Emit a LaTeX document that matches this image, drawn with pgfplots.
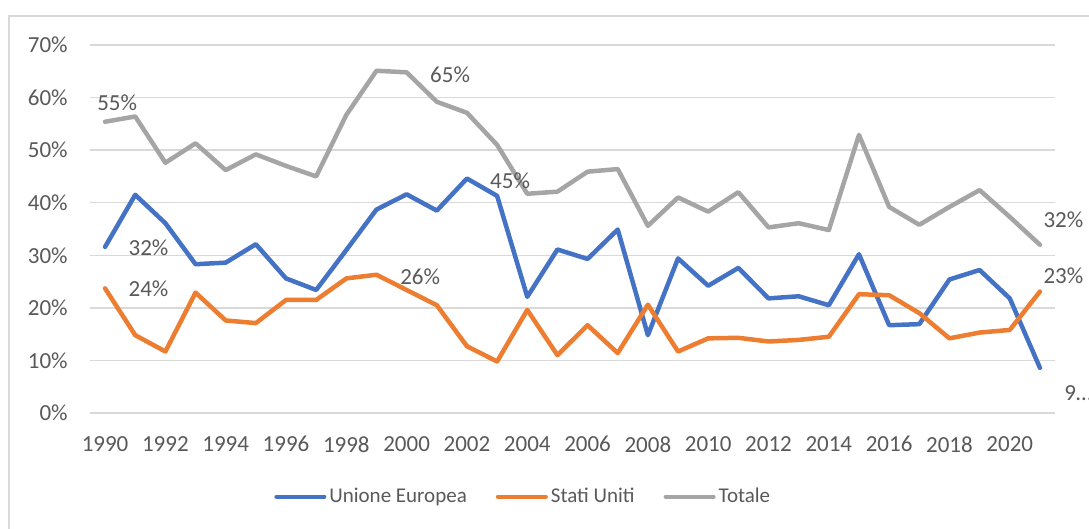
\documentclass[border=0pt]{standalone}
\usepackage{fontspec}
\setmainfont{Carlito}
\usepackage{pgfplots}
\pgfplotsset{compat=1.18}
\usepackage{pgfplotstable}
\definecolor{cUE}{HTML}{4472C4}
\definecolor{cUS}{HTML}{ED7D31}
\definecolor{cTot}{HTML}{A5A5A5}
\definecolor{cTxt}{HTML}{595959}
\definecolor{cGrid}{HTML}{D9D9D9}
\pgfplotstableread{
year ue us tot
1990 31.6 23.7 55.4
1991 41.5 14.8 56.4
1992 36.1 11.7 47.6
1993 28.3 22.9 51.3
1994 28.6 17.6 46.2
1995 32.1 17.1 49.2
1996 25.6 21.5 47.0
1997 23.4 21.5 45.0
1998 31.0 25.6 56.7
1999 38.7 26.3 65.1
2000 41.6 23.4 64.8
2001 38.5 20.5 59.2
2002 44.6 12.7 57.1
2003 41.3 9.8 51.0
2004 22.1 19.6 41.7
2005 31.1 11.0 42.1
2006 29.3 16.7 45.9
2007 34.9 11.4 46.4
2008 14.8 20.6 35.6
2009 29.4 11.7 41.0
2010 24.2 14.2 38.3
2011 27.6 14.3 42.0
2012 21.8 13.6 35.3
2013 22.2 13.9 36.1
2014 20.5 14.5 34.8
2015 30.2 22.6 52.9
2016 16.7 22.4 39.2
2017 16.9 19.0 35.8
2018 25.4 14.2 39.2
2019 27.2 15.3 42.4
2020 21.8 15.8 37.3
2021 8.6 23.1 32.0
}\datatable
\begin{document}
\begin{tikzpicture}
\useasboundingbox (0,0) rectangle (544.5pt,264.5pt);
\draw[cGrid, line width=0.75pt] (4.5pt,0pt) -- (4.5pt,256.5pt) -- (545pt,256.5pt);
\begin{axis}[
  at={(45pt,58pt)}, anchor=south west,
  scale only axis, width=482.5pt, height=184pt,
  xmin=1989.5, xmax=2021.5, ymin=0, ymax=70,
  xtick={1990,1992,...,2020},
  ytick={0,10,...,70},
  yticklabel={\pgfmathprintnumber{\tick}\%},
  /pgf/number format/1000 sep={},
  /pgf/number format/assume math mode=true,
  axis line style={draw=none},
  tick style={draw=none},
  major tick length=0pt,
  ymajorgrids, grid style={cGrid, line width=0.7pt},
  ticklabel style={font=\fontsize{11.5}{13}\selectfont, text=cTxt},
  yticklabel style={anchor=east, inner sep=0pt, xshift=-11pt},
  xticklabel style={anchor=north, inner sep=0pt, yshift=-11.5pt},
  clip=false,
  legend columns=3,
  legend style={draw=none, fill=none, at={(axis description cs:0.4495,-0.2272)}, anchor=center,
    font=\fontsize{10.5}{12}\selectfont, text=cTxt,
    /tikz/every even column/.style={column sep=13pt},
    nodes={inner sep=1.5pt}},
  legend cell align=left,
  legend image code/.code={\draw[#1, line width=2pt, line cap=round] (0pt,0pt) -- (24pt,0pt);},
  every axis plot/.append style={line width=2.25pt, line join=round, line cap=round, mark=none},
]
\addplot[cUE] table[x=year, y=ue] {\datatable};
\addlegendentry{Unione Europea}
\addplot[cUS] table[x=year, y=us] {\datatable};
\addlegendentry{Stati Uniti}
\addplot[cTot] table[x=year, y=tot] {\datatable};
\addlegendentry{Totale}
\begin{scope}[every node/.style={font=\fontsize{11.5}{13}\selectfont, text=cTxt, inner sep=0pt}]
\node at (axis cs:1990.40,59.07) {55\%};
\node at (axis cs:1991.44,31.39) {32\%};
\node at (axis cs:1991.44,23.59) {24\%};
\node at (axis cs:2000.45,25.97) {26\%};
\node at (axis cs:2001.44,64.35) {65\%};
\node at (axis cs:2003.43,44.23) {45\%};
\node at (axis cs:2021.78,36.81) {32\%};
\node at (axis cs:2021.78,26.10) {23\%};
\node[anchor=west] at (axis cs:2021.80,3.80) {9…};
\end{scope}
\end{axis}
\end{tikzpicture}
\end{document}
